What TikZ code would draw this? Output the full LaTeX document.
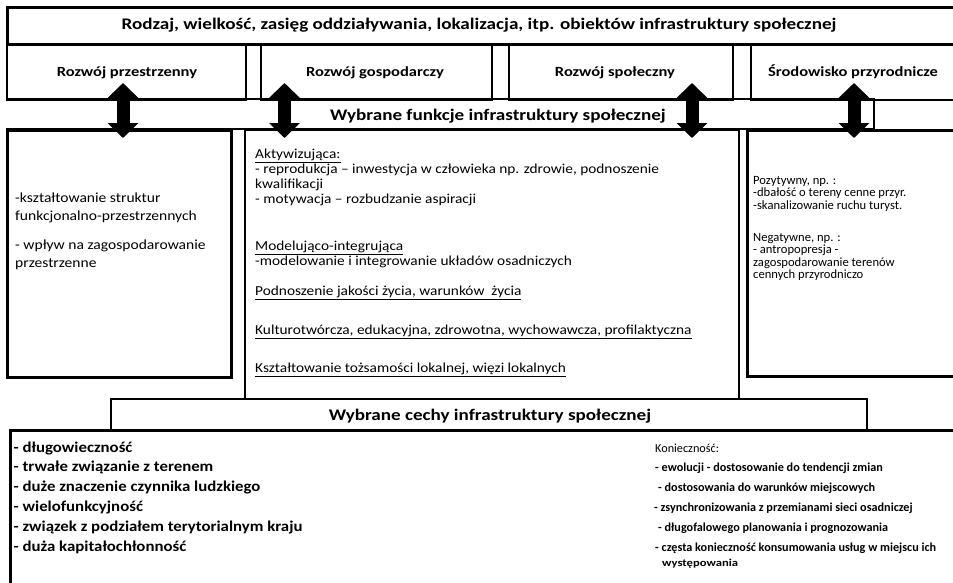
\documentclass[tikz,border=0pt]{standalone}
\usepackage{fontspec}
\setmainfont{Carlito}
\usepackage{graphicx}
\usetikzlibrary{arrows.meta}
\newcommand{\blk}[2]{\scalebox{#1}[1]{\begin{tabular}[t]{@{}l@{}}#2\end{tabular}}}
\newcommand{\wide}[2]{\scalebox{#1}[1]{#2}}
\begin{document}
\begin{tikzpicture}[x=1pt,y=-1pt,
  frame/.style={draw, line width=2pt, inner sep=0pt, anchor=north west},
  heavy/.style={draw, line width=2.8pt, inner sep=0pt, anchor=north west},
  txt/.style={inner sep=0pt, anchor=base west},
  ctxt/.style={inner sep=0pt, anchor=base},
  bigarr/.style={line width=13pt, {Triangle[width=30pt,length=15pt]}-{Triangle[width=30pt,length=15pt]}}]
\useasboundingbox (0,0) rectangle (953,582);
\clip (0,0) rectangle (953,582);
\fill[white] (0,0) rectangle (953,582);
% boxes
\node[frame, line width=2.5pt, minimum width=969pt, minimum height=37pt] (tbox) at (6,6) {};
\node[frame, minimum width=239pt, minimum height=56pt] (h1) at (6,43) {};
\node[frame, minimum width=231pt, minimum height=56pt] (h2) at (260,43) {};
\node[frame, minimum width=224pt, minimum height=56pt] (h3) at (508,43) {};
\node[frame, minimum width=225pt, minimum height=56pt] (h4) at (750,43) {};
\node[inner sep=0pt, anchor=north west, minimum width=868pt, minimum height=30pt] (band) at (6,99) {};
\draw[line width=2pt] (band.north west) -- (band.north east) -- (band.south east) -- (band.south west);
\node[frame, line width=2.5pt, minimum width=224pt, minimum height=247pt] (lbox) at (6,129) {};
\node[frame, minimum width=494pt, minimum height=269pt] (mbox) at (244,129) {};
\node[heavy, minimum width=229pt, minimum height=246pt] (rbox) at (746,129) {};
\node[frame, minimum width=756pt, minimum height=31pt] (cband) at (110,398) {};
\node[heavy, minimum width=966pt, minimum height=171pt] (bbox) at (9,429) {};
% headings
\node[ctxt, font=\fontsize{16.2}{19}\selectfont\bfseries] (ttl) at (479,29.5) {\wide{1.18}{Rodzaj, wielkość, zasięg oddziaływania, lokalizacja, itp. obiektów infrastruktury społecznej}};
\node[ctxt, font=\fontsize{14}{16}\selectfont\bfseries] (t1) at (127,76) {\wide{1.18}{Rozwój przestrzenny}};
\node[ctxt, font=\fontsize{14}{16}\selectfont\bfseries] (t2) at (375,76) {\wide{1.18}{Rozwój gospodarczy}};
\node[ctxt, font=\fontsize{14}{16}\selectfont\bfseries] (t3) at (615,76) {\wide{1.18}{Rozwój społeczny}};
\node[ctxt, font=\fontsize{14}{16}\selectfont\bfseries] (t4) at (853,76) {\wide{1.18}{Środowisko przyrodnicze}};
\node[ctxt, font=\fontsize{16.2}{19}\selectfont\bfseries] (tf) at (498,120) {\wide{1.18}{Wybrane funkcje infrastruktury społecznej}};
\node[ctxt, font=\fontsize{16.2}{19}\selectfont\bfseries] (tc) at (490,420) {\wide{1.18}{Wybrane cechy infrastruktury społecznej}};
% left box
\node[txt, font=\fontsize{13.9}{18.5}\selectfont] (l1) at (15,202) {\blk{1.12}{-kształtowanie struktur\\funkcjonalno-przestrzennych}};
\node[txt, font=\fontsize{13.9}{18.5}\selectfont] (l2) at (15,249) {\blk{1.12}{- wpływ na zagospodarowanie\\przestrzenne}};
% middle box
\node[txt, font=\fontsize{13.7}{15}\selectfont] (m1) at (255,158.5) {\blk{1.12}{\underline{Aktywizująca:}\\- reprodukcja – inwestycja w człowieka np. zdrowie, podnoszenie\\kwalifikacji\\- motywacja – rozbudzanie aspiracji}};
\node[txt, font=\fontsize{13.7}{15}\selectfont] (m2) at (255,250) {\blk{1.12}{\underline{Modelująco-integrująca}\\-modelowanie i integrowanie układów osadniczych}};
\node[txt, font=\fontsize{13.7}{15}\selectfont] (m3) at (255,295) {\blk{1.12}{\underline{Podnoszenie jakości życia, warunków\ \ życia}}};
\node[txt, font=\fontsize{13.7}{15}\selectfont] (m4) at (255,334) {\blk{1.12}{\underline{Kulturotwórcza, edukacyjna, zdrowotna, wychowawcza, profilaktyczna}}};
\node[txt, font=\fontsize{13.7}{15}\selectfont] (m5) at (255,372) {\blk{1.12}{\underline{Kształtowanie tożsamości lokalnej, więzi lokalnych}}};
% right box
\node[txt, font=\fontsize{12.6}{12.6}\selectfont] (r1) at (753,184) {\blk{1.0}{Pozytywny, np. :\\-dbałość o tereny cenne przyr.\\-skanalizowanie ruchu turyst.}};
\node[txt, font=\fontsize{12.6}{12.6}\selectfont] (r2) at (753,241) {\blk{1.0}{Negatywne, np. :\\- antropopresja -\\zagospodarowanie terenów\\cennych przyrodniczo}};
% bottom box
\node[txt, font=\fontsize{15}{19.8}\selectfont\bfseries] (b1) at (13.5,452) {\blk{1.12}{- długowieczność\\- trwałe związanie z terenem\\- duże znaczenie czynnika ludzkiego\\- wielofunkcyjność\\- związek z podziałem terytorialnym kraju\\- duża kapitałochłonność}};
\node[txt, font=\fontsize{12.2}{14}\selectfont] (k0) at (655,452) {Konieczność:};
\node[txt, font=\fontsize{12.2}{14}\selectfont\bfseries] (k1) at (655,471.8) {- ewolucji - dostosowanie do tendencji zmian};
\node[txt, font=\fontsize{12.2}{14}\selectfont\bfseries] (k2) at (658,491.6) {- dostosowania do warunków miejscowych};
\node[txt, font=\fontsize{12.2}{14}\selectfont\bfseries] (k3) at (654,511.4) {- zsynchronizowania z przemianami sieci osadniczej};
\node[txt, font=\fontsize{12.2}{14}\selectfont\bfseries] (k4) at (658,531.2) {- długofalowego planowania i prognozowania};
\node[txt, font=\fontsize{12.2}{14}\selectfont\bfseries] (k5) at (655,551) {- częsta konieczność konsumowania usług w miejscu ich};
\node[txt, font=\fontsize{10.5}{14}\selectfont\bfseries] (k6) at (662,566) {\wide{1.2}{występowania}};
% arrows
\coordinate (a1t) at (123,83);  \coordinate (a1b) at (123,138);
\coordinate (a2t) at (284.5,83); \coordinate (a2b) at (284.5,138);
\coordinate (a3t) at (692,83);  \coordinate (a3b) at (692,138);
\coordinate (a4t) at (854,83);  \coordinate (a4b) at (854,138);
\draw[bigarr] (a1t) -- (a1b);
\draw[bigarr] (a2t) -- (a2b);
\draw[bigarr] (a3t) -- (a3b);
\draw[bigarr] (a4t) -- (a4b);
\end{tikzpicture}
\end{document}
